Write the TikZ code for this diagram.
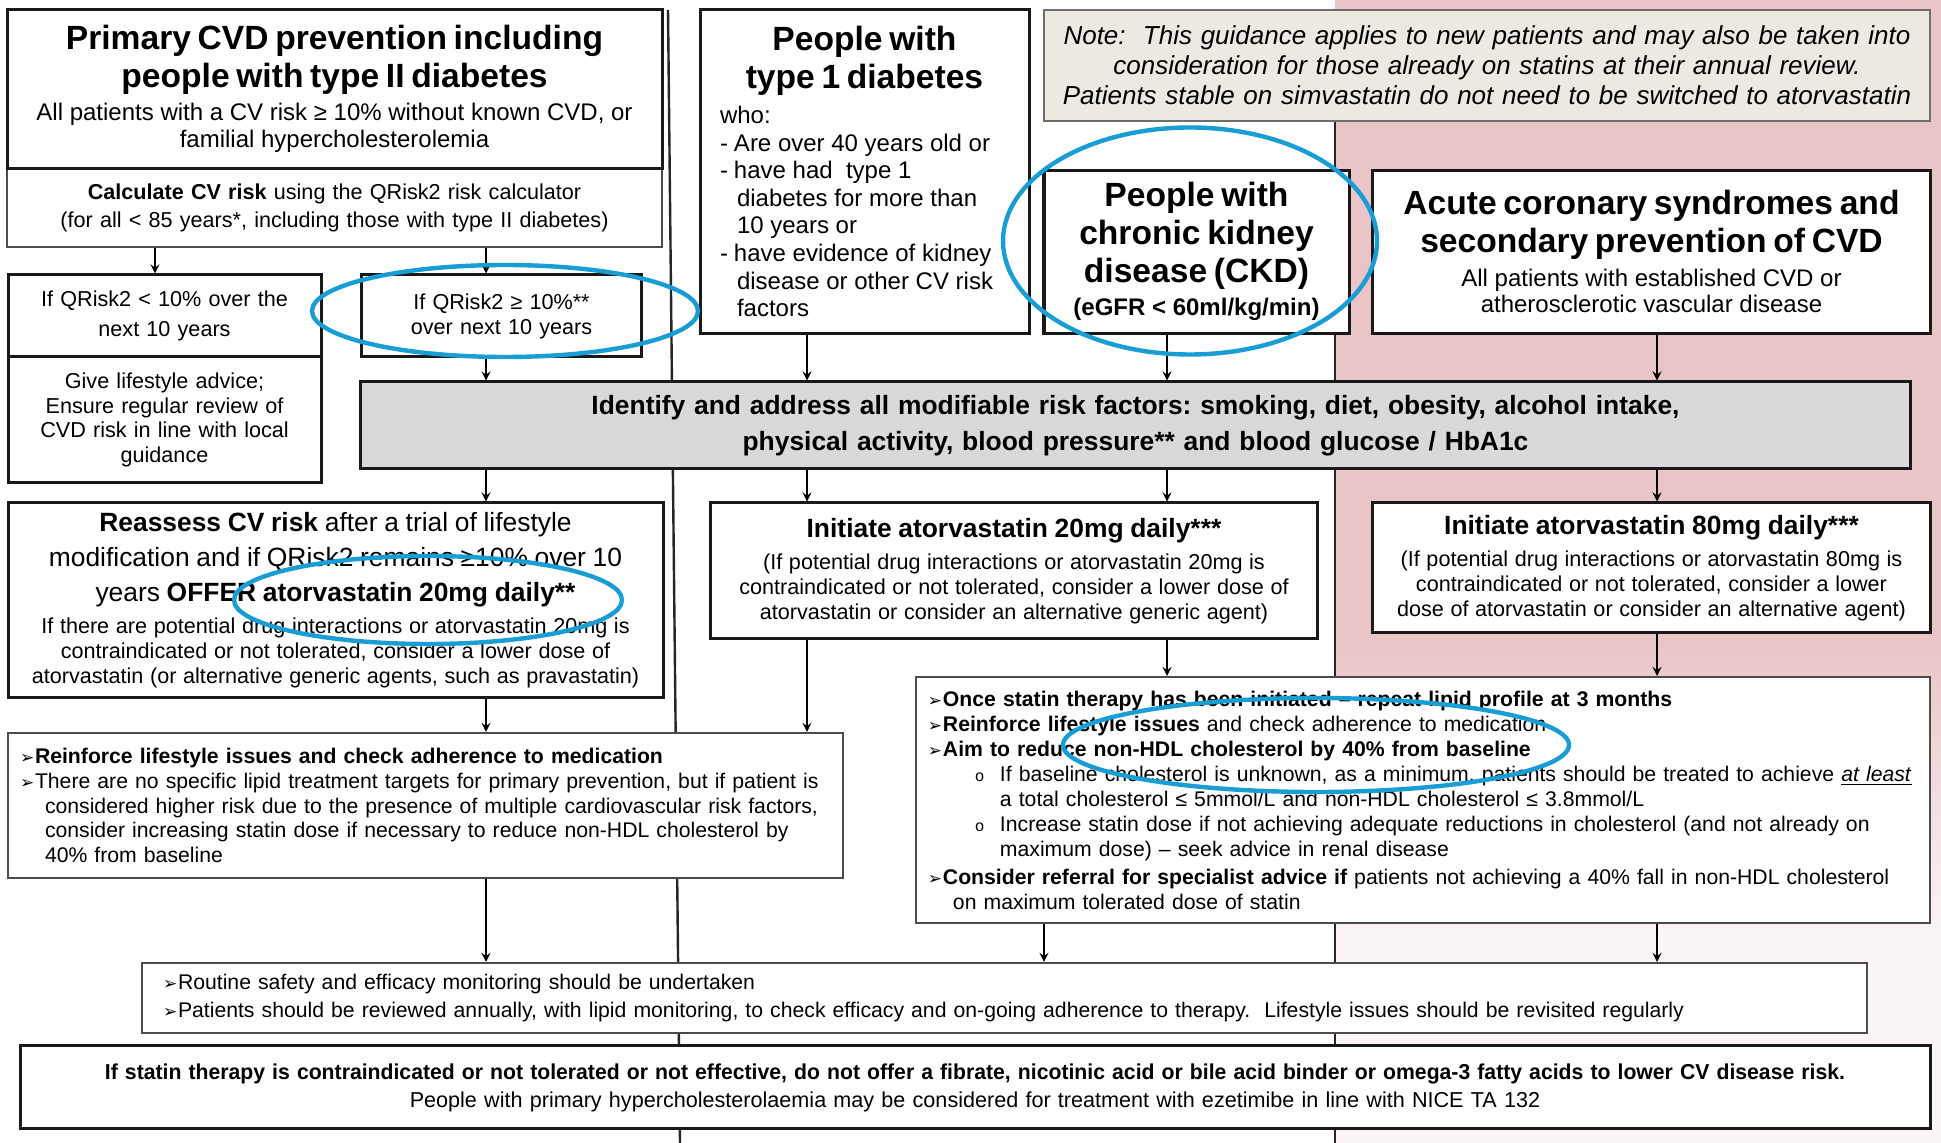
\documentclass[tikz,border=0pt]{standalone}
\usepackage{fontspec}
\usepackage{graphicx}
\setmainfont{Liberation Sans}
\newfontfamily\dingfont{DejaVu Sans}
\newfontfamily\ringfont{Liberation Mono}
\frenchspacing

\definecolor{ringblue}{RGB}{24,157,212}
\definecolor{notefill}{RGB}{236,234,224}
\definecolor{notedraw}{RGB}{110,110,110}
\definecolor{riskfill}{RGB}{217,217,217}
\definecolor{pinktop}{RGB}{233,197,199}
\definecolor{pinkbot}{RGB}{251,245,245}
\pgfdeclareverticalshading{pinkfade}{100bp}{color(0bp)=(pinkbot); color(34bp)=(pinkbot); color(47bp)=(pinktop); color(100bp)=(pinktop)}

\newcommand{\hdrfont}{\fontsize{16.8}{19}\selectfont\bfseries}
\newcommand{\midfont}{\fontsize{13.2}{17.5}\selectfont}
\newcommand{\smallfont}{\fontsize{10.8}{12.5}\selectfont}
\newcommand{\listfont}{\fontsize{10.6}{12.5}\selectfont}
\newcommand{\arrbul}{\makebox[7.5pt][l]{\dingfont\fontsize{8.5}{8.5}\selectfont ➢}}
\newcommand{\ringbul}{\makebox[12.5pt][l]{\ringfont\fontsize{8}{8}\selectfont o}}

\tikzstyle{block} = [rectangle, draw=black!90, line width=1.5pt, fill=white, align=center, inner sep=0pt]
\tikzstyle{listblock} = [rectangle, draw=black!70, line width=1pt, fill=white, align=left, inner sep=0pt]
\tikzstyle{notebox} = [rectangle, draw=notedraw, line width=1.2pt, fill=notefill, align=center, inner sep=0pt]
\tikzstyle{arrow} = [line width=1pt,->,>=stealth]
\tikzstyle{divider} = [line width=1.2pt, black!85]
\tikzstyle{ring} = [draw=ringblue, line width=2.2pt]

\begin{document}
\begin{tikzpicture}[x=0.5pt, y=-0.5pt, node distance = 2cm, auto]
	% Background and column lines
	\useasboundingbox (0,0) rectangle (1941,1143);
	\fill [white] (0,0) rectangle (1941,1143);
	\shade [shading=pinkfade] (1335,0) rectangle (1941,1143);
	\draw [divider] (668,10) -- (680,1143);
	\draw [divider] (1335,121) -- (1335,1143);
	\coordinate (colA) at (155,0);
	\coordinate (colB) at (486,0);
	\coordinate (colC) at (807,0);
	\coordinate (colD) at (1167,0);
	\coordinate (colE) at (1657,0);
	\coordinate (colF) at (1044,0);
	% Place nodes
	\node [listblock, align=center, minimum width=327.5pt, minimum height=39.5pt, text width=310pt, font=\fontsize{10.8}{14}\selectfont] (Calculate) at (334.5,207.5) {\textbf{Calculate CV risk} using the QRisk2 risk calculator\\ (for all < 85 years*, including those with type II diabetes)};
	\node [block, above of=Calculate, yshift=2.34pt, minimum width=327.5pt, minimum height=79pt, text width=310pt] (Primary) {{\hdrfont Primary CVD prevention including\\ people with type II diabetes\par}\vspace{3pt}{\fontsize{12}{13.5}\selectfont All patients with a CV risk ≥ 10\% without known CVD, or\\ familial hypercholesterolemia\par}};
	\node [block, below of=Calculate, xshift=-85pt, yshift=2.66pt, minimum width=156.5pt, minimum height=41pt, text width=145pt, font=\fontsize{10.8}{15}\selectfont] (QRiskLow) {If QRisk2 < 10\% over the\\ next 10 years};
	\node [block, below of=QRiskLow, yshift=4.91pt, minimum width=156.5pt, minimum height=63pt, text width=145pt, font=\fontsize{10.8}{12.25}\selectfont] (Advice) {Give lifestyle advice;\\ Ensure regular review of\\ CVD risk in line with local\\ guidance};
	\node [block, right of=QRiskLow, xshift=111.59pt, minimum width=139.5pt, minimum height=41pt, text width=130pt, font=\fontsize{10.8}{12.5}\selectfont] (QRiskHigh) {If QRisk2 ≥ 10\%**\\ over next 10 years};
	\node [block, right of=Primary, xshift=208.09pt, yshift=-41.25pt, minimum width=164.5pt, minimum height=161.5pt, text width=144.5pt] (Type1) {{\hdrfont People with\\ type 1 diabetes\par}\vspace{3.7pt}{\raggedright\fontsize{12}{13.8}\selectfont who:\\ \makebox[7pt][l]{-}Are over 40 years old or\\ \makebox[7pt][l]{-}have had\ \ type 1\\ \hspace*{8.5pt}diabetes for more than\\ \hspace*{8.5pt}10 years or\\ \makebox[7pt][l]{-}have evidence of kidney\\ \hspace*{8.5pt}disease or other CV risk\\ \hspace*{8.5pt}factors\par}};
	\node [block, right of=Type1, xshift=109.09pt, yshift=-40pt, minimum width=152.5pt, minimum height=81.5pt, text width=145pt] (CKD) {{\hdrfont People with\\ chronic kidney\\ disease (CKD)\par}\vspace{2.5pt}{\fontsize{12}{14}\selectfont\bfseries (eGFR < 60ml/kg/min)\par}};
	\node [block, right of=CKD, xshift=170.59pt, minimum width=278.5pt, minimum height=81.5pt, text width=265pt] (Acute) {{\hdrfont Acute coronary syndromes and\\ secondary prevention of CVD\par}\vspace{4pt}{\fontsize{12}{13}\selectfont All patients with established CVD or\\ atherosclerotic vascular disease\par}};
	\node [notebox, above of=Acute, xshift=-82.25pt, yshift=36.09pt, minimum width=443pt, minimum height=55.5pt, text width=441pt, font=\fontsize{13}{15}\selectfont\itshape] (Note) {Note:\ \ This guidance applies to new patients and may also be taken into\\ consideration for those already on statins at their annual review.\\ \mbox{Patients stable on simvastatin do not need to be switched to atorvastatin}};
	\node [block, fill=riskfill, below of=CKD, xshift=-30.5pt, yshift=-30.09pt, minimum width=774.5pt, minimum height=43.5pt, text width=760pt, font=\fontsize{13.2}{18}\selectfont\bfseries] (Identify) {Identify and address all modifiable risk factors: smoking, diet, obesity, alcohol intake,\\ physical activity, blood pressure** and blood glucose / HbA1c};
	\node [block, below of=Advice, xshift=85.5pt, yshift=-33.34pt, minimum width=327.5pt, minimum height=97.5pt, text width=315pt] (Reassess) {{\midfont\textbf{Reassess CV risk} after a trial of lifestyle\\ modification and if QRisk2 remains ≥10\% over 10\\ years \textbf{OFFER atorvastatin 20mg daily**}\par}\vspace{3.5pt}{\smallfont If there are potential drug interactions or atorvastatin 20mg is\\ contraindicated or not tolerated, consider a lower dose of\\ atorvastatin (or alternative generic agents, such as pravastatin)\par}};
	\node [block, below of=Identify, xshift=-60.75pt, yshift=-15.84pt, minimum width=303pt, minimum height=68pt, text width=290pt] (Initiate20) {{\midfont\bfseries Initiate atorvastatin 20mg daily***\par}\vspace{3.5pt}{\smallfont (If potential drug interactions or atorvastatin 20mg is\\ contraindicated or not tolerated, consider a lower dose of\\ atorvastatin or consider an alternative generic agent)\par}};
	\node [block, right of=Initiate20, xshift=261.84pt, yshift=1.5pt, minimum width=278.5pt, minimum height=65pt, text width=268pt] (Initiate80) {{\midfont\bfseries Initiate atorvastatin 80mg daily***\par}\vspace{3.5pt}{\smallfont (If potential drug interactions or atorvastatin 80mg is\\ contraindicated or not tolerated, consider a lower\\ dose of atorvastatin or consider an alternative agent)\par}};
	\node [listblock, below of=Reassess, xshift=45pt, yshift=-45.59pt, minimum width=417.5pt, minimum height=72.5pt, text width=405.5pt, font=\fontsize{10.6}{12.4}\selectfont] (ReinforceLeft) {\arrbul\textbf{Reinforce lifestyle issues and check adherence to medication}\\ \mbox{\arrbul There are no specific lipid treatment targets for primary prevention, but if patient is}\\ \mbox{\hspace*{12.5pt}considered higher risk due to the presence of multiple cardiovascular risk factors,}\\ \mbox{\hspace*{12.5pt}consider increasing statin dose if necessary to reduce non-HDL cholesterol by}\\ \hspace*{12.5pt}40\% from baseline};
	\node [listblock, below of=Initiate80, xshift=-114.25pt, yshift=-59.09pt, minimum width=507pt, minimum height=123pt, text width=495pt, font=\listfont] (OnceStatin) {\arrbul\textbf{Once statin therapy has been initiated – repeat lipid profile at 3 months}\\ \arrbul\textbf{Reinforce lifestyle issues} and check adherence to medication\\ \arrbul\textbf{Aim to reduce non-HDL cholesterol by 40\% from baseline}\\ \mbox{\hspace*{23.5pt}\ringbul If baseline cholesterol is unknown, as a minimum, patients should be treated to achieve \underline{\textit{at least}}}\\ \hspace*{36pt}a total cholesterol ≤ 5mmol/L and non-HDL cholesterol ≤ 3.8mmol/L\\ \mbox{\hspace*{23.5pt}\ringbul Increase statin dose if not achieving adequate reductions in cholesterol (and not already on}\\ \hspace*{36pt}maximum dose) – seek advice in renal disease\\[1.5pt] \mbox{\arrbul\textbf{Consider referral for specialist advice if} patients not achieving a 40\% fall in non-HDL cholesterol}\\ \hspace*{12.5pt}on maximum tolerated dose of statin};
	\node [listblock, below of=ReinforceLeft, xshift=289.5pt, yshift=-39.34pt, minimum width=862.5pt, minimum height=35pt, text width=841.5pt, font=\fontsize{10.6}{14}\selectfont] (Routine) {\arrbul Routine safety and efficacy monitoring should be undertaken\\ \arrbul Patients should be reviewed annually, with lipid monitoring, to check efficacy and on-going adherence to therapy.\ \ Lifestyle issues should be revisited regularly};
	\node [block, below of=Routine, xshift=-14.75pt, yshift=12.16pt, minimum width=955pt, minimum height=41.5pt, text width=940pt, font=\fontsize{10.8}{14}\selectfont] (Final) {\resizebox{870pt}{\height}{\bfseries If statin therapy is contraindicated or not tolerated or not effective, do not offer a fibrate, nicotinic acid or bile acid binder or omega-3 fatty acids to lower CV disease risk.}\\ People with primary hypercholesterolaemia may be considered for treatment with ezetimibe in line with NICE TA 132};
	% Draw edges
	\draw [arrow] (Calculate.south -| colA) -- (QRiskLow.north -| colA);
	\draw [arrow] (Calculate.south -| colB) -- (QRiskHigh.north -| colB);
	\draw [arrow] (QRiskHigh.south -| colB) -- (Identify.north -| colB);
	\draw [arrow] (Type1.south -| colC) -- (Identify.north -| colC);
	\draw [arrow] (CKD.south -| colD) -- (Identify.north -| colD);
	\draw [arrow] (Acute.south -| colE) -- (Identify.north -| colE);
	\draw [arrow] (Identify.south -| colB) -- (Reassess.north -| colB);
	\draw [arrow] (Identify.south -| colC) -- (Initiate20.north -| colC);
	\draw [arrow] (Identify.south -| colD) -- (Initiate20.north -| colD);
	\draw [arrow] (Identify.south -| colE) -- (Initiate80.north -| colE);
	\draw [arrow] (Reassess.south -| colB) -- (ReinforceLeft.north -| colB);
	\draw [arrow] (Initiate20.south -| colC) -- (ReinforceLeft.north -| colC);
	\draw [arrow] (Initiate20.south -| colD) -- (OnceStatin.north -| colD);
	\draw [arrow] (Initiate80.south -| colE) -- (OnceStatin.north -| colE);
	\draw [arrow] (ReinforceLeft.south -| colB) -- (Routine.north -| colB);
	\draw [arrow] (OnceStatin.south -| colF) -- (Routine.north -| colF);
	\draw [arrow] (OnceStatin.south -| colE) -- (Routine.north -| colE);
	% Circled items
	\draw [ring] (505,311) ellipse [x radius=96.5pt, y radius=23pt];
	\draw [ring] (1190,241) ellipse [x radius=93.5pt, y radius=56.75pt];
	\draw [ring] (428,600) ellipse [x radius=97pt, y radius=22pt];
	\draw [ring] (1316,745) ellipse [x radius=126.5pt, y radius=23.5pt];
\end{tikzpicture}
\end{document}
